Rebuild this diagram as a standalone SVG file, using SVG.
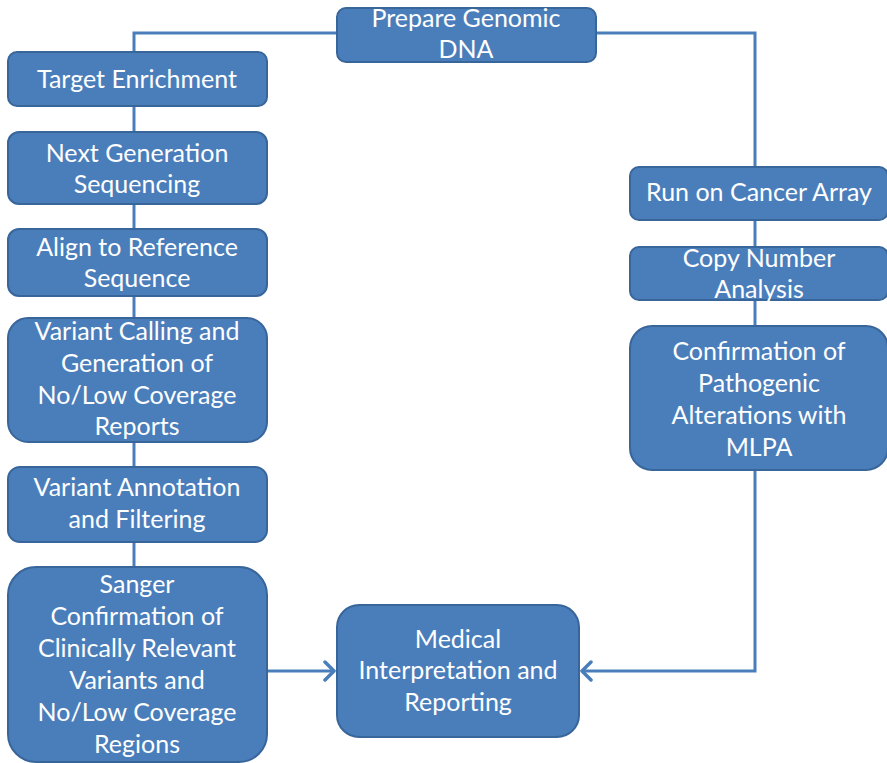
<svg xmlns="http://www.w3.org/2000/svg" width="887" height="763" viewBox="0 0 887 763">
  <style>
    .box { fill: #4a7ebb; stroke: #38659a; stroke-width: 2; }
    .lbl { fill: #ffffff; font-family: Lato, "Liberation Sans", sans-serif; font-size: 25px; text-anchor: middle; }
    .wire { fill: none; stroke: #4a7ebb; stroke-width: 3; }
  </style>
  <defs>
    <marker id="chev" markerWidth="14" markerHeight="22" refX="11" refY="11" orient="auto" markerUnits="userSpaceOnUse">
      <path d="M2,2 L11,11 L2,20" fill="none" stroke="#4a7ebb" stroke-width="3.5" stroke-linecap="round" stroke-linejoin="round"/>
    </marker>
  </defs>

  <!-- connectors -->
  <g id="connectors">
    <path class="wire" d="M337,33 H134 V52"/>
    <path class="wire" d="M134,106 V132"/>
    <path class="wire" d="M134,204 V229"/>
    <path class="wire" d="M134,296 V318"/>
    <path class="wire" d="M134,442 V467"/>
    <path class="wire" d="M134,542 V567"/>
    <path class="wire" d="M596,33 H755 V167"/>
    <path class="wire" d="M755,220 V247"/>
    <path class="wire" d="M755,300 V326"/>
    <path class="wire" d="M267,671 H334" marker-end="url(#chev)"/>
    <path class="wire" d="M755,470 V671 H582" marker-end="url(#chev)"/>
  </g>

  <!-- left column -->
  <g id="prepare-dna">
    <rect class="box" x="337" y="8" width="259" height="54" rx="9"/>
    <text class="lbl" x="466" y="27">Prepare Genomic</text>
    <text class="lbl" x="466" y="58">DNA</text>
  </g>
  <g id="target-enrichment">
    <rect class="box" x="8" y="52" width="259" height="54" rx="9"/>
    <text class="lbl" x="137" y="88">Target Enrichment</text>
  </g>
  <g id="ngs">
    <rect class="box" x="8" y="132" width="259" height="72" rx="11"/>
    <text class="lbl" x="137" y="162">Next Generation</text>
    <text class="lbl" x="137" y="193">Sequencing</text>
  </g>
  <g id="align">
    <rect class="box" x="8" y="229" width="259" height="67" rx="11"/>
    <text class="lbl" x="137" y="256">Align to Reference</text>
    <text class="lbl" x="137" y="287">Sequence</text>
  </g>
  <g id="variant-calling">
    <rect class="box" x="8" y="318" width="259" height="124" rx="20"/>
    <text class="lbl" x="137" y="340">Variant Calling and</text>
    <text class="lbl" x="137" y="372">Generation of</text>
    <text class="lbl" x="137" y="404">No/Low Coverage</text>
    <text class="lbl" x="137" y="435">Reports</text>
  </g>
  <g id="variant-annotation">
    <rect class="box" x="8" y="467" width="259" height="75" rx="12"/>
    <text class="lbl" x="137" y="496">Variant Annotation</text>
    <text class="lbl" x="137" y="528">and Filtering</text>
  </g>
  <g id="sanger">
    <rect class="box" x="8" y="567" width="259" height="195" rx="28"/>
    <text class="lbl" x="137" y="593">Sanger</text>
    <text class="lbl" x="137" y="625">Confirmation of</text>
    <text class="lbl" x="137" y="657">Clinically Relevant</text>
    <text class="lbl" x="137" y="689">Variants and</text>
    <text class="lbl" x="137" y="721">No/Low Coverage</text>
    <text class="lbl" x="137" y="753">Regions</text>
  </g>

  <!-- right column -->
  <g id="cancer-array">
    <rect class="box" x="630" y="167" width="258" height="53" rx="9"/>
    <text class="lbl" x="759" y="201">Run on Cancer Array</text>
  </g>
  <g id="copy-number">
    <rect class="box" x="630" y="247" width="258" height="53" rx="9"/>
    <text class="lbl" x="759" y="267">Copy Number</text>
    <text class="lbl" x="759" y="298">Analysis</text>
  </g>
  <g id="mlpa">
    <rect class="box" x="630" y="326" width="258" height="144" rx="22"/>
    <text class="lbl" x="759" y="360">Confirmation of</text>
    <text class="lbl" x="759" y="392">Pathogenic</text>
    <text class="lbl" x="759" y="424">Alterations with</text>
    <text class="lbl" x="759" y="456">MLPA</text>
  </g>

  <!-- bottom centre -->
  <g id="medical-report">
    <rect class="box" x="337" y="605" width="242" height="132" rx="22"/>
    <text class="lbl" x="458" y="648">Medical</text>
    <text class="lbl" x="458" y="679">Interpretation and</text>
    <text class="lbl" x="458" y="711">Reporting</text>
  </g>
</svg>
